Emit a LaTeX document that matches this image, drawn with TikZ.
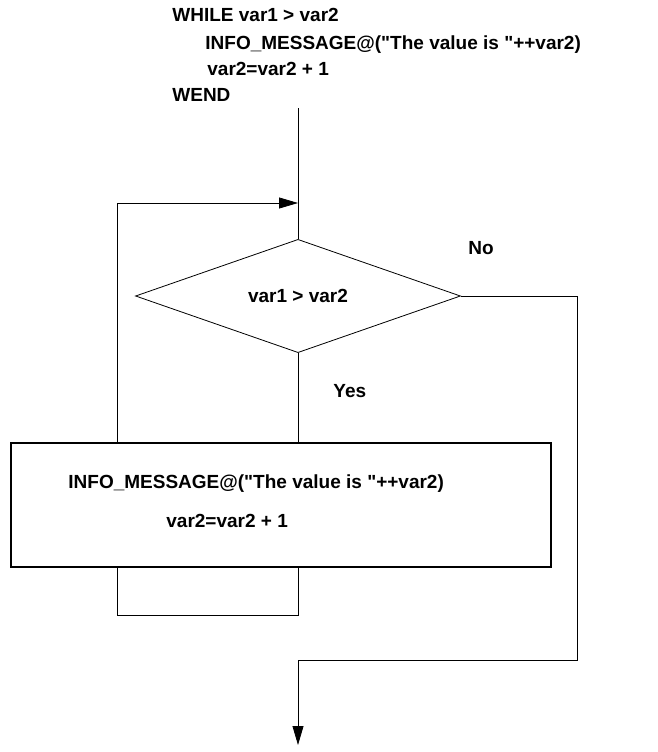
\documentclass[tikz,border=0pt]{standalone}
\usepackage{fontspec}
\setmainfont{Liberation Sans}[Ligatures=TeXOff]
\usetikzlibrary{shapes.geometric,arrows.meta}

\tikzset{
  code/.style={font=\fontsize{19}{22}\selectfont\bfseries, inner sep=0pt, anchor=base west},
  arr/.style={-{Triangle[length=19pt,width=11pt]}},
}

\begin{document}
\begin{tikzpicture}[x=1pt, y=-1pt, line width=0.8pt]
      \useasboundingbox (0,0) rectangle (657,752);

      % the loop as written
      \node[code, name=l1] at (172,22) {WHILE var1 > var2};
      \node[code, name=l2] at (205,49) {INFO\_MESSAGE@("The value is "++var2)};
      \node[code, name=l3] at (207,75) {var2=var2 + 1};
      \node[code, name=l4] at (172,101) {WEND};

      % test and body
      \node[diamond, draw=black, name=cond, inner sep=0pt,
            minimum width=325pt, minimum height=109pt,
            font=\fontsize{19}{22}\selectfont\bfseries] at (298,296) {var1 > var2};
      \node[rectangle, draw=black, line width=1.2pt, name=body,
            minimum width=540pt, minimum height=124pt] at (281,505) {};
      \node[code, name=msg] at (68,488) {INFO\_MESSAGE@("The value is "++var2)};
      \node[code, name=inc] at (166,527) {var2=var2 + 1};

      \node[code, name=no] at (468,254) {No};
      \node[code, name=yes] at (333,397) {Yes};

      \coordinate (start) at (298,108);
      \coordinate (back) at (117,203);
      \coordinate (tail) at (117,615);
      \coordinate (turn) at (577,660);
      \coordinate (stop) at (298,745);

      \draw (start) -- (cond.north);
      \draw[arr] (body.north -| back) -- (back) -- (back -| cond.north);
      \draw (cond.south) -- (cond.south |- body.north);
      \draw (body.south -| back) -- (tail) -- (tail -| cond.south)
            -- (cond.south |- body.south);
      \draw[arr] (cond.east) -| (turn) -| (stop);
\end{tikzpicture}
\end{document}
